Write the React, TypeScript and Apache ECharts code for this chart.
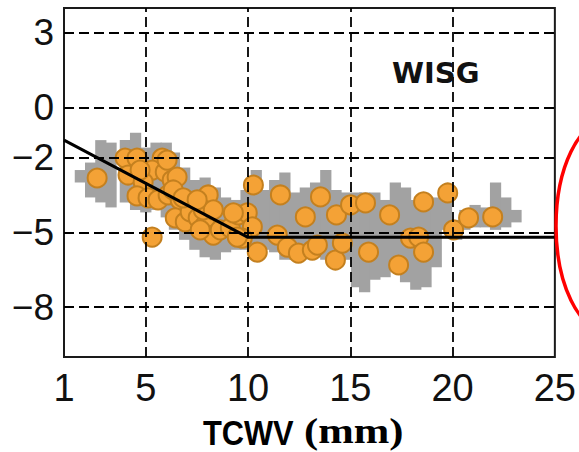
import React, { useEffect, useRef } from "react";
import * as echarts from "echarts";

const xTicks = [1, 5, 10, 15, 20, 25];
const yTicks = [3, 0, -2, -5, -8];
const xGridLines = [5, 10, 15, 20];

// gray cloud envelope: [tcwv, low, high]
const grayBand: number[][] = [
  [1.8, -3.0, -2.5], [2.3, -3.6, -2.2], [2.8, -3.8, -1.3], [3.3, -4.0, -1.4],
  [4.0, -3.8, -1.3], [4.5, -4.1, -1.0], [5.0, -4.2, -1.6], [5.5, -4.1, -1.4],
  [6.0, -4.4, -1.4], [6.4, -4.9, -1.8], [6.9, -5.3, -2.4], [7.4, -5.7, -2.9],
  [7.9, -6.0, -2.8], [8.4, -6.1, -3.2], [8.9, -5.8, -3.6], [9.4, -5.7, -3.7],
  [9.9, -5.7, -3.3], [10.4, -5.8, -2.5], [10.8, -5.7, -3.3], [11.3, -5.8, -2.9],
  [11.8, -6.1, -2.6], [12.3, -6.1, -3.4], [12.8, -6.0, -3.2], [13.3, -6.0, -3.0],
  [13.8, -6.1, -2.5], [14.3, -6.2, -3.3], [14.8, -6.1, -3.4], [15.3, -7.2, -3.4],
  [15.7, -7.4, -3.4], [16.2, -6.9, -3.4], [16.7, -6.8, -3.7], [17.2, -6.5, -3.0],
  [17.7, -7.0, -3.2], [18.2, -7.3, -3.7], [18.7, -7.2, -3.6], [19.2, -6.4, -3.6],
  [19.7, -4.9, -3.2], [20.2, -5.3, -4.5], [20.6, -4.9, -4.1], [21.1, -4.8, -3.9],
  [21.6, -4.8, -4.0], [22.1, -4.9, -3.0], [22.6, -4.8, -3.6], [23.1, -4.6, -4.1],
];

const orangePoints: number[][] = [
  [2.62, -2.82], [3.99, -2.02], [4.57, -2.02], [5.8, -2.02], [5.31, -2.5], [5.95, -2.58],
  [4.13, -2.7], [4.87, -2.98], [6.29, -2.9], [4.57, -3.54], [5.11, -3.62], [5.6, -3.7],
  [6.09, -3.5], [6.68, -3.7], [5.31, -5.19], [6.44, -4.42], [6.93, -4.58], [7.17, -4.18],
  [7.56, -4.42], [7.91, -4.7], [8.05, -3.5], [8.3, -5.11], [8.64, -4.9], [9.13, -4.82],
  [9.52, -4.3], [9.96, -4.22], [10.21, -4.78], [9.72, -5.23], [10.26, -3.1], [11.58, -3.5],
  [10.45, -5.79], [11.43, -5.11], [11.92, -5.59], [12.46, -5.83], [12.8, -4.38], [13.54, -3.58],
  [14.32, -4.3], [15.01, -3.9], [15.74, -3.82], [16.92, -4.3], [18.58, -3.78], [13.14, -5.71],
  [13.39, -5.51], [14.27, -6.11], [14.61, -5.43], [15.89, -5.79], [17.36, -6.31], [17.94, -5.23],
  [18.34, -5.19], [18.58, -5.79], [19.76, -3.42], [20.05, -4.9], [20.78, -4.42], [21.96, -4.38],
  [6.04, -2.1], [4.72, -2.5], [6.53, -2.78], [6.34, -3.3], [6.83, -3.62], [7.81, -4.1],
  [8.3, -4.1], [7.51, -3.7], [7.66, -4.9], [9.28, -4.22], [9.47, -5.19],
];

const fitLine: number[][] = [[1, -1.3], [10, -5.2], [25, -5.2]];

const fmtMinus = (v: number) => String(v).replace("-", "\u2212");

export default function App() {
  const ref = useRef<HTMLDivElement>(null);
  useEffect(() => {
    if (!ref.current) return;
    const chart = echarts.init(ref.current, null, { renderer: "svg" });
    const dash = { color: "#000", width: 1.8, type: [10, 5] as any, opacity: 1 };
    chart.setOption({
      animation: false,
      backgroundColor: "#fff",
      textStyle: { fontFamily: "Liberation Sans, Arial, sans-serif" },
      grid: {
        left: 64, top: 8, right: 24, bottom: 95,
        show: true, borderColor: "#1a1a1a", borderWidth: 2, backgroundColor: "transparent",
      },
      xAxis: {
        type: "value", min: 1, max: 25,
        axisLine: { show: false },
        axisTick: { show: false },
        splitLine: { show: false },
        axisLabel: {
          customValues: xTicks, color: "#111", fontSize: 38, margin: 12,
          fontFamily: "Liberation Sans, Arial, sans-serif",
        },
      },
      yAxis: {
        type: "value", min: -10, max: 4,
        axisLine: { show: false },
        axisTick: { show: false },
        splitLine: { show: false },
        axisLabel: {
          customValues: yTicks, color: "#111", fontSize: 37, margin: 10,
          formatter: fmtMinus,
          fontFamily: "Liberation Sans, Arial, sans-serif",
        },
      },
      series: [
        {
          type: "line", data: [], z: 1, silent: true,
          markLine: {
            silent: true, symbol: "none", label: { show: false },
            lineStyle: dash,
            emphasis: { disabled: true },
            data: [
              ...xGridLines.map((v) => ({ xAxis: v })),
              ...yTicks.map((v) => ({ yAxis: v })),
            ],
          },
        },
        {
          type: "custom", z: 2, silent: true,
          encode: { x: 0, y: [1, 2] },
          data: grayBand,
          renderItem: (params: any, api: any) => {
            const x = api.value(0);
            const lo = api.value(1);
            const hi = api.value(2);
            const p1 = api.coord([x, hi]);
            const p2 = api.coord([x, lo]);
            const w = api.size([0.5, 0])[0];
            return {
              type: "rect",
              shape: { x: p1[0] - w / 2 - 0.5, y: p1[1], width: w + 1, height: p2[1] - p1[1] },
              style: { fill: "#a2a2a2" },
            };
          },
        },
        {
          type: "scatter", z: 3, data: orangePoints, symbolSize: 19,
          itemStyle: { color: "#f4a236", borderColor: "#c4801f", borderWidth: 2, opacity: 1 },
        },
        {
          type: "line", z: 4, data: fitLine, symbol: "none",
          lineStyle: { color: "#000", width: 3 },
        },
      ],
      graphic: [
        {
          type: "text", left: 392, top: 58, z: 10,
          style: { text: "WISG", fontSize: 29, fontWeight: "bold", fontFamily: "DejaVu Sans", fill: "#111" },
        },
        {
          type: "text", x: 203, y: 433, z: 10, scaleX: 0.88,
          style: {
            text: "TCWV", fontSize: 35, fontWeight: "bold", fontFamily: "Liberation Sans, Arial",
            fill: "#000", textAlign: "left", textVerticalAlign: "middle",
          },
        },
        {
          type: "text", x: 304, y: 431, z: 10, scaleX: 1.22,
          style: {
            text: "(mm)", fontSize: 35, fontWeight: "bold", fontFamily: "Liberation Serif, Times New Roman",
            fill: "#000", textAlign: "left", textVerticalAlign: "middle",
          },
        },
        {
          type: "ellipse", z: 10, silent: true,
          shape: { cx: 607, cy: 226, rx: 51, ry: 105 },
          style: { fill: "none", stroke: "#ff0000", lineWidth: 3.5 },
        },
      ],
    });
    return () => chart.dispose();
  }, []);
  return <div ref={ref} style={{ position: "absolute", left: 0, top: 0, width: 579, height: 452 }} />;
}
